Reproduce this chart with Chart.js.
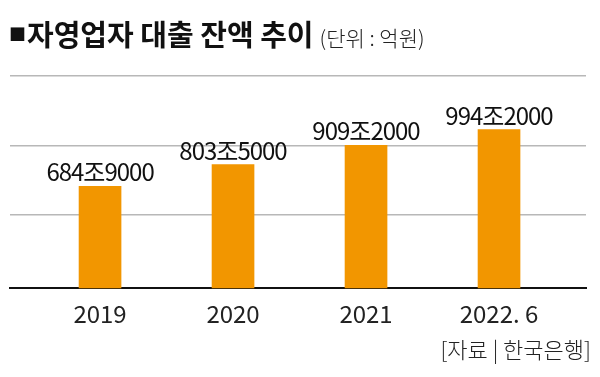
<!DOCTYPE html>
<html>
<head>
<meta charset="utf-8">
<script src="https://cdn.jsdelivr.net/npm/chart.js@4"></script>
<style>
  html, body { margin: 0; padding: 0; background: #fff; }
  #wrap { position: relative; width: 600px; height: 377px; overflow: hidden; }
  #c { position: absolute; left: 0; top: 0; }
  .title { position: absolute; left: 9px; top: 12px; white-space: nowrap; font-family: "Noto Sans CJK KR", sans-serif; color: #111; }
  .title .sq { font-size: 17px; vertical-align: 5px; margin-right: 1px; }
  .title .main { font-size: 29px; font-weight: 700; letter-spacing: 0px; }
  .title .unit { font-size: 21px; font-weight: 300; color: #222; margin-left: 6px; letter-spacing: 0px; }
  .source { position: absolute; right: 9px; top: 332px; font-family: "Noto Sans CJK KR", sans-serif; font-size: 22px; font-weight: 300; color: #222; letter-spacing: 0px; }
</style>
</head>
<body>
<div id="wrap">
  <canvas id="c" width="600" height="377"></canvas>
  <div class="title"><span class="sq">■</span><span class="main">자영업자 대출 잔액 추이</span><span class="unit">(단위 : 억원)</span></div>
  <div class="source">[자료 | 한국은행]</div>
</div>
<script>
// ---- data (values in 조원) ----
const categories = ["2019", "2020", "2021", "2022. 6"];
const balances = [684.9, 803.5, 909.2, 994.2];
const valueLabels = ["684조9000", "803조5000", "909조2000", "994조2000"];
const gridValues = [531, 906, 1287.5];
const yMin = 128;
const yMax = 1287.5;

const points = balances.map((v, i) => ({ x: i, y: v }));
const FONT = '"Noto Sans CJK KR", sans-serif';

const valueLabelPlugin = {
  id: 'valueLabels',
  afterDatasetsDraw(chart) {
    const ctx = chart.ctx;
    const meta = chart.getDatasetMeta(0);
    ctx.save();
    ctx.font = '400 24px ' + FONT;
    if ('letterSpacing' in ctx) ctx.letterSpacing = '-1px';
    ctx.fillStyle = '#111';
    ctx.textAlign = 'center';
    ctx.textBaseline = 'alphabetic';
    meta.data.forEach((bar, i) => {
      ctx.fillText(valueLabels[i], bar.x, bar.y - 5);
    });
    ctx.restore();
  }
};

new Chart(document.getElementById('c'), {
  type: 'bar',
  data: {
    datasets: [{
      data: points,
      backgroundColor: '#F29600',
      borderWidth: 0,
      barThickness: 42
    }]
  },
  options: {
    responsive: false,
    animation: false,
    events: [],
    layout: { padding: { top: 76, left: 10, right: 14, bottom: 38 } },
    plugins: { legend: { display: false }, tooltip: { enabled: false }, title: { display: false } },
    scales: {
      x: {
        type: 'linear',
        offset: false,
        min: -0.677,
        max: 3.654,
        afterBuildTicks(scale) { scale.ticks = categories.map((c, i) => ({ value: i })); },
        ticks: {
          callback: (v) => categories[v],
          font: { family: FONT, size: 24, weight: '400' },
          color: '#222',
          padding: 11,
          maxRotation: 0,
          autoSkip: false
        },
        grid: { display: false, drawTicks: false, offset: false },
        border: { display: true, color: '#111', width: 2 }
      },
      y: {
        min: yMin,
        max: yMax,
        afterBuildTicks(scale) { scale.ticks = gridValues.map(v => ({ value: v })); },
        ticks: { display: false },
        grid: { color: '#b8b8b8', lineWidth: 1.5, drawTicks: false },
        border: { display: false }
      }
    }
  },
  plugins: [valueLabelPlugin]
});
</script>
</body>
</html>
